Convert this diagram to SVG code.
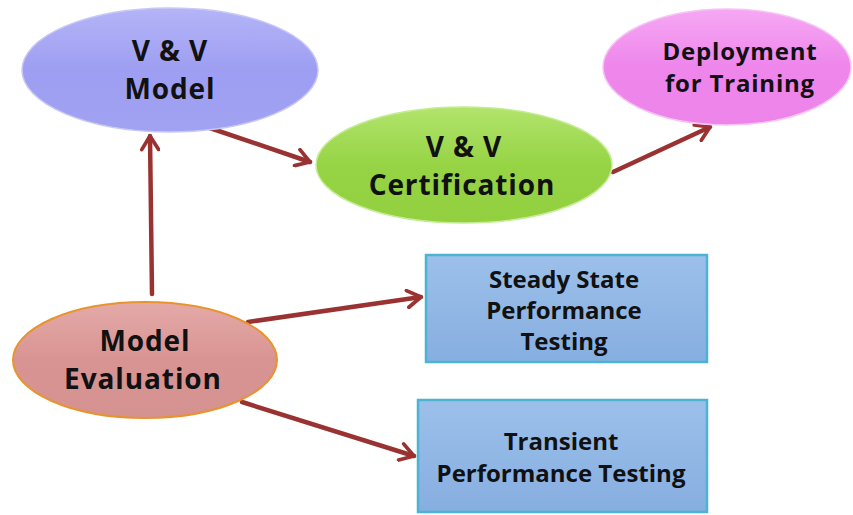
<svg xmlns="http://www.w3.org/2000/svg" width="853" height="515" viewBox="0 0 853 515">
<defs>
<linearGradient id="gBlue" x1="0" y1="0" x2="0" y2="1"><stop offset="0" stop-color="#b4b4f8"/><stop offset="0.5" stop-color="#9e9ef2"/><stop offset="1" stop-color="#a2a2f2"/></linearGradient>
<linearGradient id="gGreen" x1="0" y1="0" x2="0" y2="1"><stop offset="0" stop-color="#b2e46c"/><stop offset="0.5" stop-color="#96d445"/><stop offset="1" stop-color="#92d040"/></linearGradient>
<linearGradient id="gPink" x1="0" y1="0" x2="0" y2="1"><stop offset="0" stop-color="#f6a8f4"/><stop offset="0.5" stop-color="#ee86ec"/><stop offset="1" stop-color="#ec84ea"/></linearGradient>
<linearGradient id="gRose" x1="0" y1="0" x2="0" y2="1"><stop offset="0" stop-color="#e4aaa8"/><stop offset="0.5" stop-color="#d89492"/><stop offset="1" stop-color="#d49290"/></linearGradient>
<linearGradient id="gBox" x1="0" y1="0" x2="0" y2="1"><stop offset="0" stop-color="#9cc0ea"/><stop offset="1" stop-color="#86aee0"/></linearGradient>
<marker id="arr" viewBox="0 0 12 12" refX="10" refY="6" markerWidth="4.5" markerHeight="4.5" orient="auto" markerUnits="strokeWidth">
<path d="M2,1 L10,6 L2,11" fill="none" stroke="#9a3232" stroke-width="2.2" stroke-linecap="round" stroke-linejoin="round"/>
</marker>
</defs>
<style>
.t{font-family:"Open Sans",Lato,"Liberation Sans",sans-serif;font-weight:bold;fill:#111;text-anchor:middle;}
.big{font-size:28px;letter-spacing:0.9px;}
.mid{font-size:24px;letter-spacing:0.8px;}
.box{font-size:24px;}
.c{fill:none;stroke:#9a3232;stroke-width:4.5;stroke-linecap:round;marker-end:url(#arr);}
</style>
<rect width="853" height="515" fill="#ffffff"/>
<g id="connectors">
<line class="c" x1="152" y1="294" x2="150" y2="136"/>
<line class="c" x1="201" y1="125" x2="310" y2="162"/>
<line class="c" x1="613" y1="172" x2="710" y2="127"/>
<line class="c" x1="248" y1="322" x2="421" y2="297"/>
<line class="c" x1="242" y1="402" x2="414" y2="456"/>
</g>
<g id="vv-model">
<ellipse cx="170" cy="70" rx="148" ry="62" fill="url(#gBlue)" stroke="#c8c8f4" stroke-width="1.5"/>
<text class="t big" x="170" y="61">V &amp; V</text>
<text class="t big" x="170" y="99">Model</text>
</g>
<g id="vv-certification">
<ellipse cx="464" cy="165" rx="148" ry="58" fill="url(#gGreen)" stroke="#c4ec94" stroke-width="1.5"/>
<text class="t big" x="464" y="157">V &amp; V</text>
<text class="t big" x="462" y="195">Certification</text>
</g>
<g id="deployment">
<ellipse cx="727" cy="67" rx="124" ry="58" fill="url(#gPink)" stroke="#f6c4f4" stroke-width="1.5"/>
<text class="t mid" x="740" y="60">Deployment</text>
<text class="t mid" x="740" y="92">for Training</text>
</g>
<g id="model-evaluation">
<ellipse cx="145" cy="360" rx="132" ry="58" fill="url(#gRose)" stroke="#e8942e" stroke-width="2"/>
<text class="t big" x="145" y="351">Model</text>
<text class="t big" x="143" y="389">Evaluation</text>
</g>
<g id="steady-state">
<rect x="426" y="255" width="281" height="107" fill="url(#gBox)" stroke="#4bb4d4" stroke-width="2.5"/>
<text class="t box" x="564" y="288">Steady State</text>
<text class="t box" x="564" y="319">Performance</text>
<text class="t box" x="564" y="350">Testing</text>
</g>
<g id="transient">
<rect x="418" y="400" width="289" height="112" fill="url(#gBox)" stroke="#4bb4d4" stroke-width="2.5"/>
<text class="t box" x="561" y="450">Transient</text>
<text class="t box" x="561" y="482">Performance Testing</text>
</g>
</svg>
